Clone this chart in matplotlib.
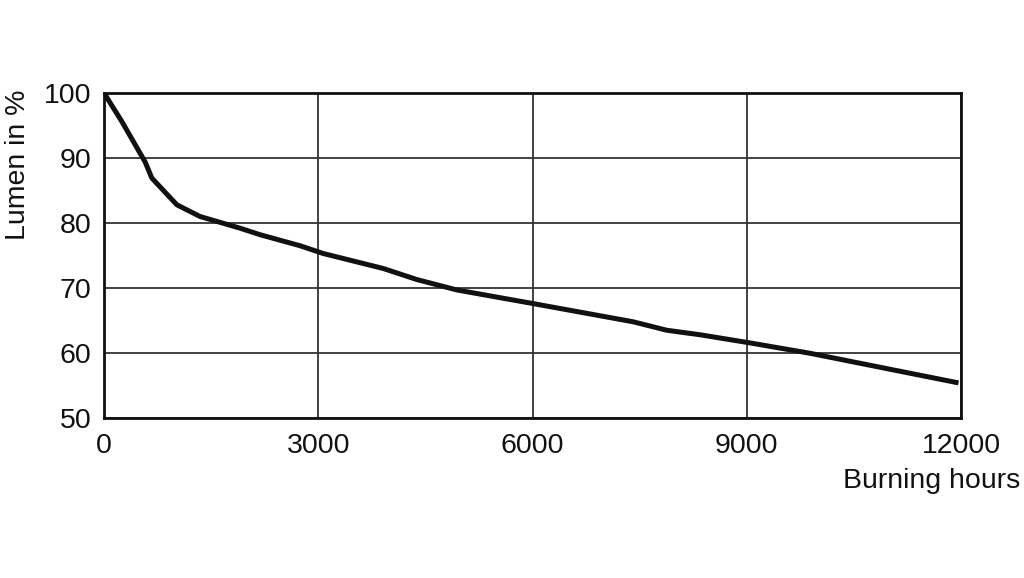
import matplotlib.pyplot as plt

# === MARK: Data
hours = [0, 250, 575, 670, 1020, 1345, 1905, 2185, 2745, 3072, 3910, 4380,
         4940, 6010, 7410, 7880, 8350, 9020, 9890, 10960, 11965]
lumen = [100, 95.6, 89.4, 86.9, 82.8, 81.0, 79.2, 78.2, 76.5, 75.3, 73.0, 71.3,
         69.7, 67.6, 64.8, 63.5, 62.8, 61.6, 59.95, 57.6, 55.4]

x_ticks = [0, 3000, 6000, 9000, 12000]
y_ticks = [50, 60, 70, 80, 90, 100]

plt.rcParams['font.family'] = ['Liberation Sans', 'DejaVu Sans']

fig = plt.figure(figsize=(10.24, 5.78), dpi=100)
ax = fig.add_axes([0.1016, 0.2768, 0.8369, 0.5623])

# === MARK: Curve and grid
ax.plot(hours, lumen, color='#111111', linewidth=3.6, solid_capstyle='butt', zorder=3)
ax.set_xlim(0, 12000)
ax.set_ylim(50, 100)
ax.set_xticks(x_ticks)
ax.set_yticks(y_ticks)
ax.grid(True, color='#333333', linewidth=1.3)
ax.set_axisbelow(True)
for s in ax.spines.values():
    s.set_linewidth(2)
    s.set_color('#111111')
ax.tick_params(length=0, labelsize=20.5, colors='#111111')
ax.tick_params(axis='x', pad=11)
ax.tick_params(axis='y', pad=9)

# === MARK: Labels
fig.text(0.018, 1 - 90 / 578, 'Lumen in %', fontsize=20.5, rotation=90,
         ha='center', va='top', color='#111111')
fig.text(0.996, 1 - 481 / 578, 'Burning hours', fontsize=20.5, ha='right',
         va='center', color='#111111')

plt.savefig('out.png', dpi=100)
